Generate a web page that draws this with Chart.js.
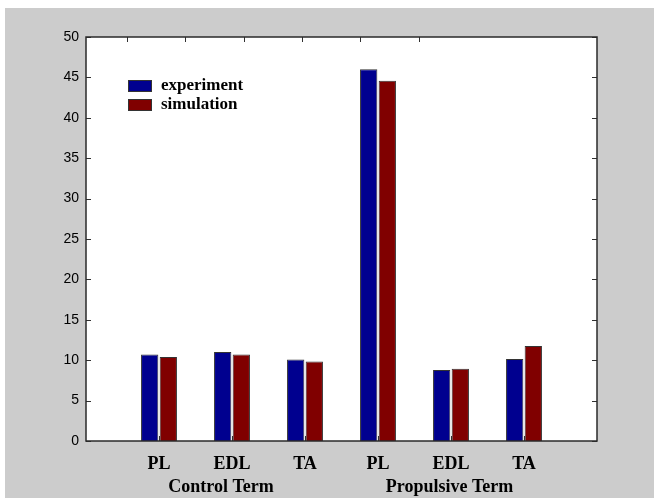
<!DOCTYPE html>
<html>
<head>
<meta charset="utf-8">
<script src="https://cdn.jsdelivr.net/npm/chart.js@4.4.0/dist/chart.umd.min.js"></script>
<style>
  html, body { margin: 0; padding: 0; background: #ffffff; }
  #wrap { width: 654px; height: 498px; position: relative; }
  canvas { display: block; }
</style>
</head>
<body>
<div id="wrap"><canvas id="chart" width="654" height="498"></canvas></div>
<script>
// Muscle categories along the x axis (two groups of three)
const categories = ['PL', 'EDL', 'TA', 'PL', 'EDL', 'TA'];
const groupNames = ['Control Term', 'Propulsive Term'];
// Values per muscle
const experiment = [10.7, 11.0, 10.1, 46.0, 8.8, 10.15];
const simulation = [10.4, 10.7, 9.85, 44.6, 8.95, 11.75];
// Y axis ticks
const yTicks = [0, 5, 10, 15, 20, 25, 30, 35, 40, 45, 50];

const BLUE = '#00008f';
const RED = '#800000';
const FIG_BG = '#cccccc';

const toPoints = arr => arr.map((v, i) => ({ x: i + 1, y: v }));

// Figure frame, axes box, inward tick marks, legend and group captions
const frame = {
  id: 'frame',
  beforeDraw(chart) {
    const { ctx, chartArea: a } = chart;
    ctx.save();
    ctx.fillStyle = '#ffffff';
    ctx.fillRect(0, 0, chart.width, chart.height);
    ctx.fillStyle = FIG_BG;
    ctx.fillRect(5, 8, chart.width - 5, chart.height - 8);
    ctx.fillStyle = '#ffffff';
    ctx.fillRect(a.left, a.top, a.right - a.left, a.bottom - a.top);
    ctx.restore();
  },
  afterDatasetsDraw(chart) {
    const { ctx, chartArea: a, scales } = chart;
    const xs = scales.x, ys = scales.y;
    const len = 5;
    ctx.save();
    ctx.strokeStyle = '#303030';
    ctx.lineWidth = 1;
    ctx.beginPath();
    // y ticks on both sides, pointing inward
    ys.ticks.forEach(t => {
      const y = Math.round(ys.getPixelForValue(t.value)) + 0.5;
      ctx.moveTo(a.left, y); ctx.lineTo(a.left + len, y);
      ctx.moveTo(a.right, y); ctx.lineTo(a.right - len, y);
    });
    // bottom ticks at each category
    xs.ticks.forEach(t => {
      const x = Math.round(xs.getPixelForValue(t.value)) + 0.5;
      ctx.moveTo(x, a.bottom); ctx.lineTo(x, a.bottom - len);
    });
    // top ticks
    [0.56, 1.36, 2.16, 2.96, 3.76, 4.56].forEach(v => {
      const x = Math.round(xs.getPixelForValue(v)) + 0.5;
      ctx.moveTo(x, a.top); ctx.lineTo(x, a.top + len);
    });
    ctx.stroke();
    // axes box
    ctx.strokeStyle = '#2a2a2a';
    ctx.lineWidth = 1.5;
    ctx.strokeRect(a.left, a.top, a.right - a.left, a.bottom - a.top);
    ctx.restore();
  },
  afterDraw(chart) {
    const { ctx, scales } = chart;
    const xs = scales.x;
    ctx.save();
    // legend
    ctx.font = 'bold 17px "Liberation Serif", "DejaVu Serif", serif';
    ctx.textBaseline = 'middle';
    ctx.textAlign = 'left';
    chart.data.datasets.forEach((ds, i) => {
      const top = 80 + i * 19;
      ctx.fillStyle = ds.backgroundColor;
      ctx.fillRect(128, top, 24, 12);
      ctx.strokeStyle = '#333333';
      ctx.lineWidth = 1;
      ctx.strokeRect(128.5, top + 0.5, 23, 11);
      ctx.fillStyle = '#000000';
      ctx.fillText(ds.label, 161, top + 6);
    });
    // group captions under the category labels
    ctx.font = 'bold 18px "Liberation Serif", "DejaVu Serif", serif';
    ctx.textAlign = 'center';
    [1.85, 4.98].forEach((v, i) => {
      ctx.fillText(groupNames[i], xs.getPixelForValue(v), 487);
    });
    ctx.restore();
  }
};

new Chart(document.getElementById('chart'), {
  type: 'bar',
  data: {
    datasets: [
      {
        label: 'experiment',
        data: toPoints(experiment),
        backgroundColor: BLUE,
        borderColor: '#333333',
        borderWidth: 1
      },
      {
        label: 'simulation',
        data: toPoints(simulation),
        backgroundColor: RED,
        borderColor: '#333333',
        borderWidth: 1
      }
    ]
  },
  options: {
    responsive: false,
    animation: false,
    devicePixelRatio: 1,
    categoryPercentage: 0.51,
    barPercentage: 0.93,
    layout: { padding: { top: 37, right: 57, bottom: 0, left: 0 } },
    plugins: {
      legend: { display: false },
      tooltip: { enabled: false }
    },
    scales: {
      x: {
        type: 'linear',
        position: 'bottom',
        min: 0,
        max: 7,
        offset: false,
        grid: { display: false, drawTicks: false, offset: false },
        border: { display: false },
        afterBuildTicks(scale) {
          scale.ticks = categories.map((_, i) => ({ value: i + 1 }));
        },
        afterFit(scale) { scale.height = 57; },
        ticks: {
          autoSkip: false,
          maxRotation: 0,
          padding: 13,
          color: '#000000',
          font: { family: '"Liberation Serif", "DejaVu Serif", serif', size: 18, weight: 'bold' },
          callback: v => categories[Math.round(v) - 1] ?? ''
        }
      },
      y: {
        min: 0,
        max: 50,
        grid: { display: false, drawTicks: false },
        border: { display: false },
        afterBuildTicks(scale) {
          scale.ticks = yTicks.map(v => ({ value: v }));
        },
        afterFit(scale) { scale.width = 86; },
        ticks: {
          padding: 7,
          color: '#000000',
          font: { family: '"Liberation Sans Narrow", "Liberation Sans", sans-serif', size: 14 }
        }
      }
    }
  },
  plugins: [frame]
});
</script>
</body>
</html>
